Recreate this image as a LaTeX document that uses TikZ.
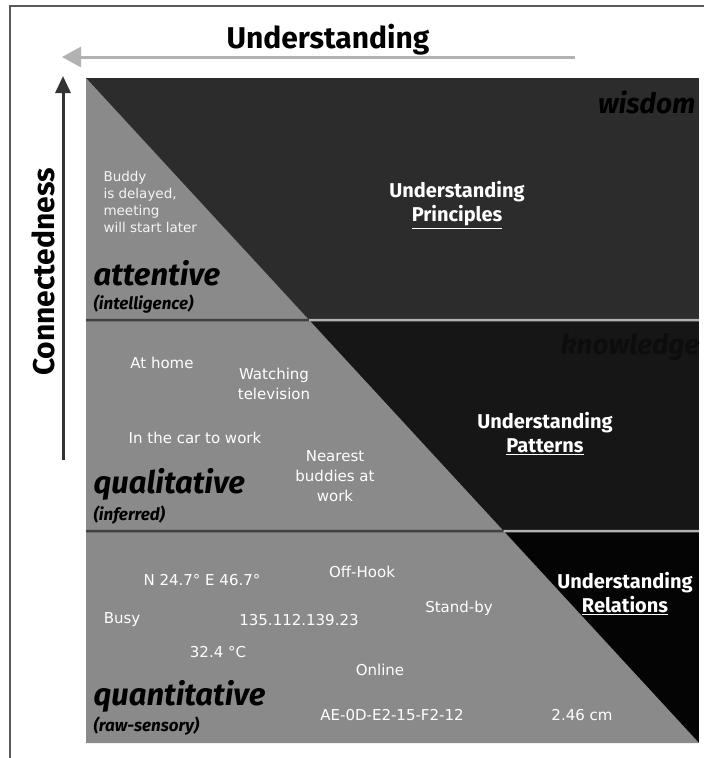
\documentclass[tikz,border=0pt]{standalone}
\usepackage{fontspec}
\setmainfont{Fira Sans}
\newfontfamily\datafont{DejaVu Sans}
\usetikzlibrary{positioning, arrows.meta, calc}

\definecolor{rawgray}{RGB}{138,138,138}
\definecolor{wisdomfill}{RGB}{44,44,44}
\definecolor{knowfill}{RGB}{22,22,22}
\definecolor{relfill}{RGB}{4,4,4}
\definecolor{framegray}{RGB}{90,90,90}

\begin{document}
\begin{tikzpicture}[x=1pt, y=-1pt,
	level/.style={font=\bfseries\itshape\fontsize{31}{31}\selectfont, anchor=base west},
	levelsub/.style={font=\bfseries\itshape\fontsize{17}{17}\selectfont, anchor=base west},
	datum/.style={text=white, font=\datafont\fontsize{15}{20}\selectfont, align=center},
	insight/.style={text=white, font=\bfseries\fontsize{20}{24}\selectfont, align=center},
	axis/.style={font=\bfseries\fontsize{30}{30}\selectfont, anchor=base},
	band/.style={font=\bfseries\itshape\fontsize{28}{28}\selectfont, anchor=east}]
	\useasboundingbox[fill=white] (0,0) rectangle (704,758);

	% frame
	\draw[framegray, line width=1.5pt] (10,758) -- (10,6) -- (704,6);

	% corners of the square and the diagonal split
	\coordinate (tl) at (86,78);
	\coordinate (tr) at (699,78);
	\coordinate (bl) at (86,743);
	\coordinate (br) at (699,743);
	\coordinate (d1) at ($(tl)!0.3639!(br)$);
	\coordinate (d2) at ($(tl)!0.6812!(br)$);

	% dark bands, then the grey triangle on top
	\fill[relfill] (tl) rectangle (br);
	\fill[wisdomfill] (tl) rectangle (699,320);
	\fill[knowfill] (86,320) rectangle (699,531);
	\fill[rawgray] (tl) -- (br) -- (bl) -- cycle;

	% band separators
	\draw[black!75, line width=2.5pt] (86,320) -- (d1);
	\draw[black!30, line width=2.5pt] (d1) -- (699,320);
	\draw[black!75, line width=2.5pt] (86,531) -- (d2);
	\draw[black!30, line width=2.5pt] (d2) -- (699,531);

	% axes
	\coordinate (ustart) at (575,57);
	\coordinate (uend) at (62,57);
	\draw[black!30, line width=3pt, -{Triangle[length=19pt, width=20pt]}] (ustart) -- (uend);
	\node[axis] (utitle) at (328,48) {Understanding};
	\coordinate (cstart) at (63,460);
	\coordinate (cend) at (63,76);
	\draw[black!80, line width=3pt, -{Triangle[length=17pt, width=15pt]}] (cstart) -- (cend);
	\node[axis, rotate=90] (ctitle) at (54,272) {Connectedness};

	% band names
	\node[band, text=black] (wisdom) at (699,102) {wisdom};
	\node[band, text=black!95] (knowledge) at (703,347) {knowledge};

	\node[insight] (principles) at (457,205) {Understanding\\\underline{Principles}};
	\node[insight] (patterns) at (545,434) {Understanding\\\underline{Patterns}};
	\node[insight] (relations) at (625,594) {Understanding\\\underline{Relations}};

	% attentive
	\node[datum, align=left, anchor=north west, font=\datafont\fontsize{13.5}{17}\selectfont, text=white!92!gray] (buddy) at (100,168) {Buddy\\is delayed,\\meeting\\will start later};
	\node[level] (attentive) at (90,285) {attentive};
	\node[levelsub] (intel) at (90,309) {(intelligence)};

	% qualitative
	\node[datum] (home) at (162,363) {At home};
	\node[datum] (tv) at (274,384) {Watching\\television};
	\node[datum] (car) at (195,438) {In the car to work};
	\node[datum] (nearest) at (335,476) {Nearest\\buddies at\\work};
	\node[level] (qualitative) at (90,493) {qualitative};
	\node[levelsub] (inferred) at (90,520) {(inferred)};

	% quantitative
	\node[datum] (gps) at (202,580) {N 24.7° E 46.7°};
	\node[datum] (offhook) at (362,572) {Off-Hook};
	\node[datum] (busy) at (122,620) {Busy};
	\node[datum] (ip) at (299,620) {135.112.139.23};
	\node[datum] (standby) at (459,608) {Stand-by};
	\node[datum] (temp) at (218,652) {32.4 °C};
	\node[datum] (online) at (380,670) {Online};
	\node[datum] (mac) at (392,715) {AE-0D-E2-15-F2-12};
	\node[datum] (dist) at (582,715) {2.46 cm};
	\node[level] (quantitative) at (90,705) {quantitative};
	\node[levelsub] (rawsens) at (90,731) {(raw-sensory)};
\end{tikzpicture}
\end{document}
